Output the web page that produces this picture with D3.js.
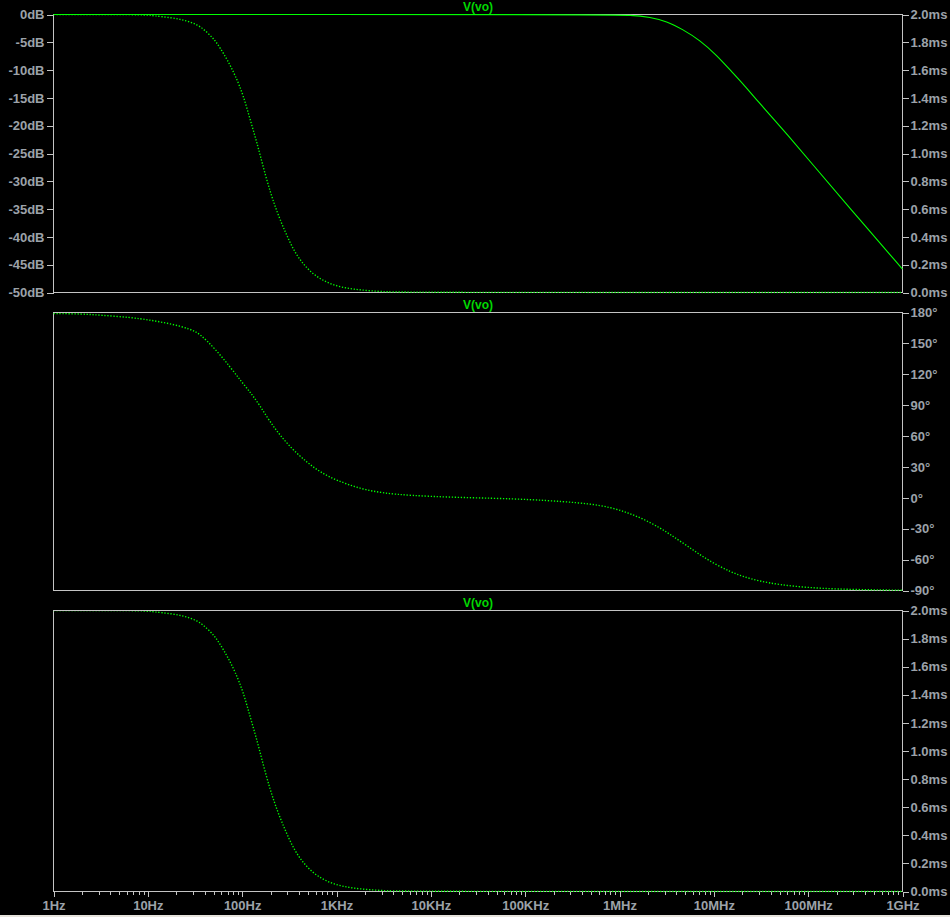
<!DOCTYPE html>
<html>
<head>
<meta charset="utf-8">
<script src="https://cdn.jsdelivr.net/npm/d3@7"></script>
<style>
  html, body { margin: 0; padding: 0; background: #000; }
  svg { display: block; }
</style>
</head>
<body>
<script>
// ---------------- data ----------------
const xTickLabels = ["1Hz", "10Hz", "100Hz", "1KHz", "10KHz", "100KHz", "1MHz", "10MHz", "100MHz", "1GHz"];
const xTickValues = [1, 10, 100, 1e3, 1e4, 1e5, 1e6, 1e7, 1e8, 1e9];

const dbTickValues = [0, -5, -10, -15, -20, -25, -30, -35, -40, -45, -50];
const dbTickLabels = ["0dB", "-5dB", "-10dB", "-15dB", "-20dB", "-25dB", "-30dB", "-35dB", "-40dB", "-45dB", "-50dB"];

const msTickValues = [0, 0.2, 0.4, 0.6, 0.8, 1.0, 1.2, 1.4, 1.6, 1.8, 2.0];
const msTickLabels = ["0.0ms", "0.2ms", "0.4ms", "0.6ms", "0.8ms", "1.0ms", "1.2ms", "1.4ms", "1.6ms", "1.8ms", "2.0ms"];

const degTickValues = [180, 150, 120, 90, 60, 30, 0, -30, -60, -90];
const degTickLabels = ["180°", "150°", "120°", "90°", "60°", "30°", "0°", "-30°", "-60°", "-90°"];

const traceName = "V(vo)";

// magnitude (dB), solid trace
const freqMag = [1, 619e3, 1.38e6, 2.1e6, 3.17e6, 4.69e6, 7.1e6, 10.7e6, 15.9e6, 21.2e6, 30e6, 42e6, 60e6, 101e6, 275e6, 1e9];
const magDb   = [0, 0, -0.1, -0.5, -1.2, -2.7, -4.6, -7.3, -10.5, -12.8, -15.8, -18.6, -21.6, -26.1, -34.8, -45.8];

// group delay (ms), dotted trace
const freqGD = [1, 6.7, 10, 11.5, 17.3, 23.8, 33.5, 42.7, 51.9, 58.7, 69.5, 84.5, 102.8, 121.9, 144.5, 167.4, 198.5, 235.3, 286, 347.6, 433, 594, 857, 1236, 1781, 2900, 5000, 1e9];
const groupDelayMs = [2.0, 2.0, 1.996, 1.991, 1.978, 1.962, 1.930, 1.872, 1.812, 1.757, 1.675, 1.562, 1.420, 1.240, 1.071, 0.900, 0.722, 0.575, 0.435, 0.310, 0.210, 0.117, 0.060, 0.032, 0.018, 0.007, 0, 0];

// phase (degrees), dotted trace
const freqPh = [1, 1.98, 3.15, 6.54, 10.6, 17.3, 28.2, 36, 51.9, 74.8, 97.9, 127, 155.6, 198.5, 253.5, 350, 486, 671, 1009, 1781, 3140, 6030, 16000, 45900, 112000, 253000, 485000, 790000, 1.19e6, 1.78e6, 2.67e6, 3.5e6, 5e6, 7e6, 1e7, 1.5e7, 2e7, 3e7, 5e7, 1e8, 2e8, 5e8, 1e9];
const phaseDeg = [179, 178.7, 177.4, 175.3, 172.6, 169.2, 164, 159, 144.5, 127, 113, 100.5, 89, 73.5, 60.5, 46, 34.6, 24.9, 16.8, 8.8, 4.5, 2.3, 0.6, -0.4, -1.6, -3.6, -5.8, -9.1, -14, -20.4, -29, -36, -45.5, -54.8, -63.8, -71.8, -76.2, -80.8, -84.5, -87.2, -88.6, -89.4, -89.7];

// ---------------- layout / style ----------------
const W = 950, H = 917;
const L = 53.5, R = 902.5;
const panes = [
  { top: 14.5, bottom: 292.5 },
  { top: 312.5, bottom: 590.5 },
  { top: 610.5, bottom: 891.5 }
];
const FRAME = "#c4c4c4";
const TEXT = "#9ca2a9";
const GREEN = "#00ff00";
const TITLE = "#00d800";
const FONT = "'Liberation Sans', Arial, sans-serif";

const svg = d3.select("body").append("svg")
  .attr("width", W).attr("height", H)
  .style("background", "#000");

svg.append("rect").attr("x", 0).attr("y", 0).attr("width", W).attr("height", H).attr("fill", "#000");

const x = d3.scaleLog().domain([1, 1e9]).range([L, R]);

const yDb = d3.scaleLinear().domain([-50, 0]).range([panes[0].bottom, panes[0].top]);
const yMs1 = d3.scaleLinear().domain([0, 2]).range([panes[0].bottom, panes[0].top]);
const yDeg = d3.scaleLinear().domain([-90, 180]).range([panes[1].bottom, panes[1].top]);
const yMs3 = d3.scaleLinear().domain([0, 2]).range([panes[2].bottom, panes[2].top]);

const defs = svg.append("defs");
panes.forEach((p, i) => {
  defs.append("clipPath").attr("id", "clip" + i)
    .append("rect").attr("x", L - 0.5).attr("y", p.top + 0.5)
    .attr("width", R - L + 1).attr("height", p.bottom - p.top + 0.5);
});

function styleAxis(g) {
  g.select(".domain").remove();
  g.selectAll(".tick line").attr("stroke", FRAME).attr("stroke-width", 1).attr("shape-rendering", "crispEdges");
  g.selectAll(".tick text").attr("fill", TEXT).attr("font-family", FONT)
    .attr("font-size", 13).attr("font-weight", "bold");
}

// frames
panes.forEach(p => {
  svg.append("rect").attr("x", L).attr("y", p.top)
    .attr("width", R - L).attr("height", p.bottom - p.top)
    .attr("fill", "none").attr("stroke", FRAME).attr("stroke-width", 1)
    .attr("shape-rendering", "crispEdges");
});

// left axis pane 1 (dB)
svg.append("g").attr("transform", `translate(${L},0)`)
  .call(d3.axisLeft(yDb).tickValues(dbTickValues).tickSize(7).tickPadding(2)
    .tickFormat((d, i) => dbTickLabels[i]))
  .call(styleAxis);

// right axis pane 1 (ms)
svg.append("g").attr("transform", `translate(${R},0)`)
  .call(d3.axisRight(yMs1).tickValues(msTickValues).tickSize(6).tickPadding(2)
    .tickFormat((d, i) => msTickLabels[i]))
  .call(styleAxis);

// right axis pane 2 (deg)
svg.append("g").attr("transform", `translate(${R},0)`)
  .call(d3.axisRight(yDeg).tickValues(degTickValues).tickSize(6).tickPadding(2)
    .tickFormat((d, i) => degTickLabels[i]))
  .call(styleAxis);

// right axis pane 3 (ms)
svg.append("g").attr("transform", `translate(${R},0)`)
  .call(d3.axisRight(yMs3).tickValues(msTickValues).tickSize(6).tickPadding(2)
    .tickFormat((d, i) => msTickLabels[i]))
  .call(styleAxis);

// bottom axis: major ticks + labels
svg.append("g").attr("transform", `translate(0,${panes[2].bottom})`)
  .call(d3.axisBottom(x).tickValues(xTickValues).tickSize(5).tickPadding(4)
    .tickFormat((d, i) => xTickLabels[i]))
  .call(styleAxis);

// bottom axis: minor ticks
const minor = [];
for (let e = 0; e < 9; e++) for (let m = 2; m <= 9; m++) minor.push(m * Math.pow(10, e));
svg.append("g").attr("transform", `translate(0,${panes[2].bottom})`)
  .call(d3.axisBottom(x).tickValues(minor).tickSize(3).tickFormat(""))
  .call(styleAxis);

// titles
panes.forEach(p => {
  svg.append("text").attr("x", (L + R) / 2).attr("y", p.top - 4)
    .attr("text-anchor", "middle").attr("fill", TITLE)
    .attr("font-family", FONT).attr("font-size", 12).attr("font-weight", "bold")
    .text(traceName);
});

// traces
function lineFor(xs, ys, yScale) {
  const pts = xs.map((f, i) => [x(f), yScale(ys[i])]);
  return d3.line().curve(d3.curveBasis)(pts);
}

const DOT_W = 1.35, DOT_DASH = "1.3,1.7";

// pane 1: group delay dotted
svg.append("path").attr("d", lineFor(freqGD, groupDelayMs, yMs1))
  .attr("clip-path", "url(#clip0)")
  .attr("fill", "none").attr("stroke", GREEN).attr("stroke-width", DOT_W)
  .attr("stroke-dasharray", DOT_DASH);

// pane 1: magnitude solid
svg.append("path").attr("d", lineFor(freqMag, magDb, yDb))
  .attr("fill", "none").attr("stroke", GREEN).attr("stroke-width", 1.1);

// pane 2: phase dotted
svg.append("path").attr("d", lineFor(freqPh, phaseDeg, yDeg))
  .attr("clip-path", "url(#clip1)")
  .attr("fill", "none").attr("stroke", GREEN).attr("stroke-width", DOT_W)
  .attr("stroke-dasharray", DOT_DASH);

// pane 3: group delay dotted
svg.append("path").attr("d", lineFor(freqGD, groupDelayMs, yMs3))
  .attr("clip-path", "url(#clip2)")
  .attr("fill", "none").attr("stroke", GREEN).attr("stroke-width", DOT_W)
  .attr("stroke-dasharray", DOT_DASH);

// thin light strip at the very bottom edge (window border)
svg.append("rect").attr("x", 0).attr("y", H - 2).attr("width", W).attr("height", 2).attr("fill", "#e6e3dc");
</script>
</body>
</html>
